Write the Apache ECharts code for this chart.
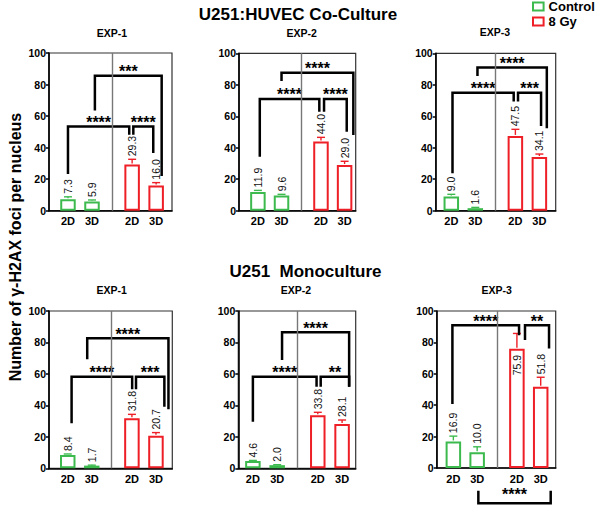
<!DOCTYPE html>
<html><head><meta charset="utf-8">
<script src="https://cdn.jsdelivr.net/npm/echarts@6/dist/echarts.min.js"></script>
<style>html,body{margin:0;padding:0;background:#fff}#c{width:600px;height:505px}</style>
</head><body><div id="c"></div>
<script>
// ---------- data ----------
const categories = ['2D', '3D'];
const groups = ['Control', '8 Gy'];
const expTitles = ['EXP-1', 'EXP-2', 'EXP-3'];
const rowTitles = ['U251:HUVEC Co-Culture', 'U251  Monoculture'];
const yAxisTitle = 'Number of γ-H2AX foci per nucleus';
const yTicks = [0, 20, 40, 60, 80, 100];

const coControl      = [[7.3, 5.9], [11.9, 9.6], [9.0, 1.6]];
const coControlErr   = [[1.5, 0.9], [1.0, 0.8], [1.4, 0.5]];
const coIrradiated   = [[29.3, 16.0], [44.0, 29.0], [47.5, 34.1]];
const coIrradiatedErr= [[3.3, 1.8], [2.6, 2.4], [4.2, 1.9]];

const monoControl      = [[8.4, 1.7], [4.6, 2.0], [16.9, 10.0]];
const monoControlErr   = [[0.7, 0.3], [0.4, 0.3], [3.4, 3.5]];
const monoIrradiated   = [[31.8, 20.7], [33.8, 28.1], [75.9, 51.8]];
const monoIrradiatedErr= [[2.5, 2.0], [1.8, 2.6], [9.8, 6.0]];

// significance brackets per panel: [xStart, xEnd, barY, leftLegEndY, rightLegEndY] (x in bar-slot units)
const coBrackets = [
  [[0, 2.55, 53.4, 23.3, 48.1], [2.72, 3.55, 53.4, 48.1, 36.6], [1.12, 3.9, 85.6, 63.6, 22]],
  [[0.08, 2.6, 71, 34.3, 62.9], [2.8, 3.76, 71, 62.9, 50.2], [1.0, 4.04, 87.7, 82.4, 48.1]],
  [[0.05, 2.6, 75.0, 23.8, 69.3], [2.78, 3.74, 75.0, 69.3, 53.8], [1.09, 3.98, 90.9, 85.6, 52.4]]
];
const coStars = [['****', '****', '***'], ['****', '****', '****'], ['****', '***', '****']];
const monoBrackets = [
  [[0.16, 2.68, 58.2, 28.6, 50.2], [2.84, 4.02, 58.2, 50.2, 39.2], [0.81, 4.19, 82.6, 69.3, 37.5]],
  [[0, 2.62, 58.2, 29.6, 51.9], [2.79, 3.96, 58.2, 51.9, 51.9], [1.2, 3.96, 86.5, 68.8, 51.9]],
  [[-0.04, 2.76, 90.9, 40.7, 84.6], [3.01, 4.02, 90.9, 81.5, 76.1], [1.05, 4.09, -22.5, -14.5, -14.5]]
];
const monoStars = [['****', '***', '****'], ['****', '**', '****'], ['****', '**', '****']];
// value labels drawn inside the bar: [row, panel, bar]
const insideLabels = [[1, 2, 2]];

// ---------- layout ----------
const SLOT = [0, 1, 2.67, 3.67];
const DIVIDER = 1.83;
const GREEN = '#3dba4e', RED = '#ee1f26';
const FONT = "'Liberation Sans', Arial, sans-serif";
const CHART_H = 505;
const boxes = [
  {left: 49,    top: 53,   width: 123,   height: 157.7, xMin: -0.79, xMax: 4.33, tx: 112,   ty: 33},
  {left: 239,   top: 53.3, width: 116.7, height: 157.4, xMin: -0.8,  xMax: 4.14, tx: 301.7, ty: 32.7},
  {left: 435.7, top: 53.3, width: 120,   height: 157.4, xMin: -0.65, xMax: 4.35, tx: 495,   ty: 32},
  {left: 49,    top: 311,  width: 123.3, height: 157.3, xMin: -0.78, xMax: 4.35, tx: 111.7, ty: 290},
  {left: 238.3, top: 311,  width: 117.4, height: 157.3, xMin: -0.6,  xMax: 4.23, tx: 296,   ty: 290},
  {left: 436.7, top: 311,  width: 119,   height: 157,   xMin: -0.7,  xMax: 4.3,  tx: 496.7, ty: 290}
];

const rows = [
  {ctrl: coControl, ctrlErr: coControlErr, irr: coIrradiated, irrErr: coIrradiatedErr, br: coBrackets, st: coStars},
  {ctrl: monoControl, ctrlErr: monoControlErr, irr: monoIrradiated, irrErr: monoIrradiatedErr, br: monoBrackets, st: monoStars}
];

const grid = [], xAxis = [], yAxis = [], series = [], graphic = [];

function nearestCat(v) {
  let best = 0;
  SLOT.forEach((s, i) => { if (Math.abs(s - v) < Math.abs(SLOT[best] - v)) best = i; });
  return categories[best % 2];
}

rows.forEach((row, r) => {
  for (let p = 0; p < 3; p++) {
    const idx = r * 3 + p;
    const b = boxes[idx];
    grid.push({left: b.left, top: b.top, width: b.width, height: b.height, show: true,
      borderColor: '#333', borderWidth: 1.2, backgroundColor: 'transparent', outerBoundsMode: 'none'});
    xAxis.push({type: 'value', gridIndex: idx, min: b.xMin, max: b.xMax,
      axisLine: {show: true, onZero: false, lineStyle: {color: '#000', width: 1.6}},
      axisTick: {show: false}, splitLine: {show: false},
      axisLabel: {customValues: SLOT, formatter: nearestCat, margin: 5,
        color: '#000', fontWeight: 'bold', fontSize: 11, fontFamily: FONT}});
    yAxis.push({type: 'value', gridIndex: idx, min: 0, max: 100, interval: 20,
      axisLine: {show: true, onZero: false, lineStyle: {color: '#000', width: 1.6}},
      axisTick: {show: true, length: 3, lineStyle: {color: '#000', width: 1.5}},
      splitLine: {show: false},
      axisLabel: {margin: 3, color: '#000', fontWeight: 'bold', fontSize: 10.5, fontFamily: FONT}});

    const barCommon = {type: 'bar', xAxisIndex: idx, yAxisIndex: idx, barWidth: 15.5, barGap: '-100%', z: 2};
    series.push(Object.assign({}, barCommon, {
      name: groups[0],
      data: row.ctrl[p].map((v, i) => [SLOT[i], v]),
      itemStyle: {color: '#fff', borderColor: GREEN, borderWidth: 2},
      markLine: {silent: true, symbol: 'none', label: {show: false}, animation: false,
        lineStyle: {color: '#777', width: 1.4, type: 'solid'}, data: [{xAxis: DIVIDER}]}
    }));
    series.push(Object.assign({}, barCommon, {
      name: groups[1],
      data: row.irr[p].map((v, i) => [SLOT[i + 2], v]),
      itemStyle: {color: '#fff', borderColor: RED, borderWidth: 2}
    }));

    // error bars + value labels
    const errData = [];
    row.ctrl[p].forEach((v, i) => errData.push([SLOT[i], v, row.ctrlErr[p][i], 0,
      insideLabels.some(q => q[0] === r && q[1] === p && q[2] === i) ? 1 : 0]));
    row.irr[p].forEach((v, i) => errData.push([SLOT[i + 2], v, row.irrErr[p][i], 1,
      insideLabels.some(q => q[0] === r && q[1] === p && q[2] === i + 2) ? 1 : 0]));
    series.push({type: 'custom', xAxisIndex: idx, yAxisIndex: idx, clip: false, silent: true, z: 3,
      data: errData,
      renderItem: (params, api) => {
        const x = api.value(0), m = api.value(1), e = api.value(2);
        const color = api.value(3) ? RED : GREEN;
        const inside = api.value(4) === 1;
        const pb = api.coord([x, m]), pt = api.coord([x, m + e]);
        return {type: 'group', children: [
          {type: 'line', shape: {x1: pb[0], y1: pb[1] - 1, x2: pt[0], y2: pt[1]}, style: {stroke: color, lineWidth: 1.4}},
          {type: 'line', shape: {x1: pt[0] - 4, y1: pt[1], x2: pt[0] + 4, y2: pt[1]}, style: {stroke: color, lineWidth: 1.4}},
          {type: 'text', x: inside ? pb[0] : pt[0], y: inside ? pb[1] + 6 : pt[1] - 3, rotation: Math.PI / 2,
            style: {text: m.toFixed(1), align: inside ? 'right' : 'left', verticalAlign: 'middle',
              font: '10.5px ' + FONT, fill: '#111'}}
        ]};
      }});

    // significance brackets
    const stars = row.st[p];
    series.push({type: 'custom', xAxisIndex: idx, yAxisIndex: idx, clip: false, silent: true, z: 4,
      data: row.br[p],
      renderItem: (params, api) => {
        const x1 = api.value(0), x2 = api.value(1), y = api.value(2), l1 = api.value(3), l2 = api.value(4);
        const a = api.coord([x1, y]), c = api.coord([x2, y]);
        const la = api.coord([x1, l1]), lc = api.coord([x2, l2]);
        return {type: 'group', children: [
          {type: 'polyline', shape: {points: [la, a, c, lc]},
            style: {stroke: '#000', lineWidth: 2.5, fill: null, lineJoin: 'miter'}},
          {type: 'text', x: (a[0] + c[0]) / 2, y: Math.min(a[1] - 4, CHART_H - 11),
            style: {text: stars[params.dataIndex], align: 'center', verticalAlign: 'middle', lineHeight: 9,
              font: 'bold 16px ' + FONT, fill: '#000'}}
        ]};
      }});

    graphic.push({type: 'text', x: b.tx, y: b.ty,
      style: {text: expTitles[p], align: 'center', verticalAlign: 'middle', font: 'bold 10.5px ' + FONT, fill: '#000'}});
  }
});

graphic.push({type: 'text', x: 298, y: 14,
  style: {text: rowTitles[0], align: 'center', verticalAlign: 'middle', font: 'bold 17px ' + FONT, fill: '#000'}});
graphic.push({type: 'text', x: 305.5, y: 271,
  style: {text: rowTitles[1], align: 'center', verticalAlign: 'middle', font: 'bold 17px ' + FONT, fill: '#000'}});
graphic.push({type: 'text', x: 15, y: 247, rotation: Math.PI / 2,
  style: {text: yAxisTitle, align: 'center', verticalAlign: 'middle', font: 'bold 16px ' + FONT, fill: '#000'}});

const chart = echarts.init(document.getElementById('c'), null, {renderer: 'svg'});
chart.setOption({
  animation: false,
  backgroundColor: '#fff',
  legend: {
    orient: 'vertical', left: 532, top: 0, padding: 0, itemGap: 2,
    itemWidth: 10.6, itemHeight: 8, icon: 'rect',
    textStyle: {color: '#000', fontWeight: 'bold', fontSize: 13, fontFamily: FONT},
    data: [
      {name: groups[0], itemStyle: {color: '#fff', borderColor: GREEN, borderWidth: 2}},
      {name: groups[1], itemStyle: {color: '#fff', borderColor: RED, borderWidth: 2}}
    ]
  },
  grid, xAxis, yAxis, series, graphic
});
</script></body></html>
